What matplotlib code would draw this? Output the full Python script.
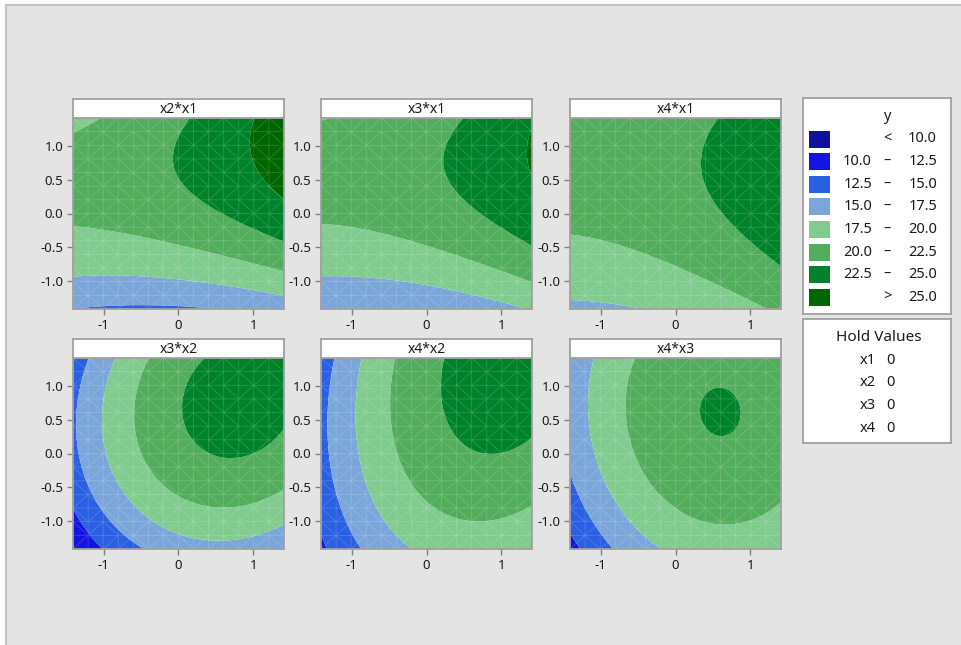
import numpy as np
import matplotlib
matplotlib.use("Agg")
import matplotlib.pyplot as plt
from matplotlib.patches import Rectangle
import matplotlib.tri as mtri

plt.rcParams['font.family'] = ['Noto Sans', 'DejaVu Sans']

# ---------------- data ----------------
panel_titles = ["x2*x1", "x3*x1", "x4*x1", "x3*x2", "x4*x2", "x4*x3"]
levels = [10.0, 12.5, 15.0, 17.5, 20.0, 22.5, 25.0]
level_colors = ["#0f0fa0", "#1414e0", "#2a60e2", "#7ba6da",
                "#80cb8e", "#52ad5c", "#00822a", "#006600"]
legend_lo = ["", "10.0", "12.5", "15.0", "17.5", "20.0", "22.5", ""]
legend_mid = ["<", "–", "–", "–", "–", "–", "–", ">"]
legend_hi = ["10.0", "12.5", "15.0", "17.5", "20.0", "22.5", "25.0", "25.0"]
legend_title = "y"
hold_title = "Hold Values"
hold_vars = ["x1", "x2", "x3", "x4"]
hold_vals = ["0", "0", "0", "0"]
x_ticks = [-1, 0, 1]
x_tick_labels = ["-1", "0", "1"]
y_ticks = [-1.0, -0.5, 0.0, 0.5, 1.0]
y_tick_labels = ["-1.0", "-0.5", "0.0", "0.5", "1.0"]
axis_lim = 1.414

# contour-boundary points: (horizontal, vertical, level)
x2x1_pts = [
    (0.98, 1.41, 25), (1.03, 0.85, 25), (1.18, 0.45, 25), (1.38, 0.25, 25),
    (0.16, 1.41, 22.5), (-0.04, 0.85, 22.5), (0.20, 0.25, 22.5), (0.38, 0.15, 22.5),
    (0.78, -0.15, 22.5), (1.38, -0.40, 22.5),
    (-1.40, -0.20, 20), (-0.24, -0.42, 20), (0.65, -0.64, 20), (1.38, -0.84, 20),
    (-1.40, 1.20, 20), (-1.04, 1.41, 20),
    (-1.40, -0.92, 17.5), (-0.24, -0.95, 17.5), (0.65, -1.07, 17.5), (1.38, -1.22, 17.5),
    (-0.91, -1.38, 15), (-0.24, -1.35, 15), (0.56, -1.41, 15),
]
x3x1_pts = [
    (1.34, 0.85, 25), (1.42, 1.12, 25), (1.42, 0.57, 25),
    (0.42, 1.41, 22.5), (0.17, 0.70, 22.5), (0.35, 0.35, 22.5), (0.66, 0.05, 22.5),
    (1.02, -0.25, 22.5), (1.42, -0.50, 22.5),
    (-1.40, -0.20, 20), (-0.36, -0.37, 20), (0.31, -0.54, 20), (0.93, -0.79, 20),
    (1.42, -1.02, 20), (-1.40, 1.35, 20), (-1.20, 1.41, 20),
    (-1.40, -0.93, 17.5), (-0.67, -0.96, 17.5), (0.22, -1.07, 17.5), (1.11, -1.37, 17.5),
    (-0.90, -1.41, 15.1),
]
x4x1_pts = [
    (0.56, 1.41, 22.5), (0.39, 1.00, 22.5), (0.36, 0.70, 22.5), (0.43, 0.30, 22.5),
    (0.63, -0.05, 22.5), (0.94, -0.35, 22.5), (1.38, -0.74, 22.5),
    (-1.39, -0.31, 20), (-0.66, -0.50, 20), (0.01, -0.79, 20), (0.68, -1.09, 20),
    (1.21, -1.42, 20),
    (-1.39, -1.28, 17.5), (-0.88, -1.34, 17.5), (-0.35, -1.43, 17.5),
]
x3x2_pts = [
    (0.36, 1.41, 22.5), (0.14, 1.05, 22.5), (0.09, 0.71, 22.5), (0.25, 0.31, 22.5),
    (0.56, 0.06, 22.5), (0.87, 0.00, 22.5), (1.18, 0.06, 22.5), (1.39, 0.16, 22.5),
    (-0.42, 1.41, 20), (-0.55, 0.66, 20), (-0.48, 0.06, 20), (-0.24, -0.44, 20),
    (0.00, -0.84, 20), (0.60, -0.90, 20), (1.39, -0.54, 20),
    (-0.86, 1.41, 17.5), (-1.00, 0.31, 17.5), (-0.82, -0.54, 17.5), (-0.24, -1.08, 17.5),
    (0.43, -1.21, 17.5), (1.39, -1.01, 17.5),
    (-1.22, 1.41, 15), (-1.37, 0.31, 15), (-1.13, -0.64, 15), (-0.46, -1.38, 15),
    (-1.39, -0.84, 12.5), (-1.20, -1.18, 12.5), (-1.00, -1.42, 12.5),
]
x4x2_pts = [
    (0.35, 1.41, 22.5), (0.22, 0.71, 22.5), (0.35, 0.26, 22.5), (0.57, 0.06, 22.5),
    (0.84, -0.03, 22.5), (1.20, 0.06, 22.5), (1.42, 0.21, 22.5),
    (-0.43, 1.41, 20), (-0.52, 0.56, 20), (-0.40, -0.09, 20), (-0.05, -0.64, 20),
    (0.44, -0.94, 20), (0.93, -0.96, 20), (1.42, -0.76, 20),
    (-0.89, 1.41, 17.5), (-0.98, 0.31, 17.5), (-0.85, -0.34, 17.5), (-0.54, -1.03, 17.5),
    (-0.18, -1.42, 17.5),
    (-1.23, 1.41, 15), (-1.32, 0.56, 15), (-1.23, -0.19, 15), (-1.07, -0.84, 15),
    (-0.89, -1.42, 15),
    (-1.40, -1.28, 12.5), (-1.36, -1.42, 12.5),
]
x4x3_pts = [
    (0.40, 0.66, 22.5), (0.88, 0.66, 22.5), (0.64, 0.96, 22.5), (0.64, 0.36, 22.5),
    (-0.59, 1.40, 20), (-0.64, 0.86, 20), (-0.61, 0.36, 20), (-0.48, -0.24, 20),
    (-0.12, -0.74, 20), (0.45, -1.01, 20), (1.03, -0.94, 20), (1.38, -0.81, 20),
    (-1.10, 1.40, 17.5), (-1.15, 0.61, 17.5), (-1.10, -0.04, 17.5), (-0.88, -0.64, 17.5),
    (-0.52, -1.13, 17.5), (-0.12, -1.42, 17.5),
    (-1.39, -0.29, 15), (-1.24, -0.79, 15), (-0.84, -1.42, 15),
    (-1.39, -1.18, 12.5), (-1.28, -1.42, 12.5),
]
panel_points = [x2x1_pts, x3x1_pts, x4x1_pts, x3x2_pts, x4x2_pts, x4x3_pts]

# ---------------- layout (pixels) ----------------
W, H = 961, 645
col_x = [(73, 284), (321, 532), (570, 781)]
row_y = [(118, 309), (358, 549)]
strip_h = 19


def fr(x0, y0, x1, y1):
    return [x0 / W, 1 - y1 / H, (x1 - x0) / W, (y1 - y0) / H]


def quad_design(u, v):
    u = np.asarray(u, float)
    v = np.asarray(v, float)
    return np.column_stack([np.ones_like(u), u, v, u * u, v * v, u * v])


fig = plt.figure(figsize=(W / 100, H / 100), dpi=100)
fig.patch.set_facecolor("white")
fig.add_artist(Rectangle((6 / W, -0.02), 1.0, (H - 5) / H + 0.02,
                         transform=fig.transFigure, facecolor="#e4e4e4",
                         edgecolor="#c4c4c4", linewidth=1.5, zorder=-10))

bounds = [-1e9] + levels + [1e9]
g = np.linspace(-axis_lim, axis_lim, 241)
GU, GV = np.meshgrid(g, g)

# coarse mesh for the faint triangulation texture
mg = np.linspace(-axis_lim, axis_lim, 15)
MU, MV = np.meshgrid(mg, mg)
mesh_tri = mtri.Triangulation(MU.ravel(), MV.ravel())

text_color = "#1a1a1a"
frame_color = "#a0a0a0"

for i, (title, pts) in enumerate(zip(panel_titles, panel_points)):
    r, c = divmod(i, 3)
    x0, x1 = col_x[c]
    y0, y1 = row_y[r]
    ax = fig.add_axes(fr(x0, y0, x1, y1))
    arr = np.array(pts, float)
    coef, *_ = np.linalg.lstsq(quad_design(arr[:, 0], arr[:, 1]), arr[:, 2], rcond=None)
    Z = (quad_design(GU.ravel(), GV.ravel()) @ coef).reshape(GU.shape)
    ax.contourf(GU, GV, Z, levels=bounds, colors=level_colors, antialiased=True)
    ax.triplot(mesh_tri, color="white", lw=0.5, alpha=0.2)
    ax.set_xlim(-axis_lim, axis_lim)
    ax.set_ylim(-axis_lim, axis_lim)
    ax.set_xticks(x_ticks)
    ax.set_xticklabels(x_tick_labels)
    ax.set_yticks(y_ticks)
    ax.set_yticklabels(y_tick_labels)
    ax.tick_params(direction="out", length=4, width=1, color="#808080",
                   labelsize=9.5, labelcolor=text_color, pad=3)
    for s in ax.spines.values():
        s.set_color(frame_color)
        s.set_linewidth(1.3)
    # title strip
    sax = fig.add_axes(fr(x0, y0 - strip_h, x1, y0))
    sax.set_facecolor("white")
    sax.set_xticks([])
    sax.set_yticks([])
    for s in sax.spines.values():
        s.set_color(frame_color)
        s.set_linewidth(1.3)
    sax.text(0.5, 0.47, title, ha="center", va="center", fontsize=10,
             color=text_color, transform=sax.transAxes)

# legend box
lax = fig.add_axes(fr(803, 98, 951, 314))
lax.set_xlim(803, 951)
lax.set_ylim(314, 98)
lax.set_xticks([])
lax.set_yticks([])
lax.set_facecolor("white")
for s in lax.spines.values():
    s.set_color(frame_color)
    s.set_linewidth(1.3)
lax.text(887, 117, legend_title, ha="center", va="center", fontsize=10.5, color=text_color)
row_c0, row_step = 139, 22.6
for k, col in enumerate(level_colors):
    yc = row_c0 + k * row_step
    lax.add_patch(Rectangle((809, yc - 8.5), 21, 17, facecolor=col, edgecolor="none"))
    if legend_lo[k]:
        lax.text(872, yc, legend_lo[k], ha="right", va="center", fontsize=10.5, color=text_color)
    lax.text(887, yc, legend_mid[k], ha="center", va="center", fontsize=10.5, color=text_color)
    lax.text(937, yc, legend_hi[k], ha="right", va="center", fontsize=10.5, color=text_color)

# hold values box
hax = fig.add_axes(fr(803, 319, 951, 443))
hax.set_xlim(803, 951)
hax.set_ylim(443, 319)
hax.set_xticks([])
hax.set_yticks([])
hax.set_facecolor("white")
for s in hax.spines.values():
    s.set_color(frame_color)
    s.set_linewidth(1.3)
hax.text(879, 337, hold_title, ha="center", va="center", fontsize=11, color=text_color)
for k, (nm, val) in enumerate(zip(hold_vars, hold_vals)):
    yc = 360 + k * 22.8
    hax.text(876, yc, nm, ha="right", va="center", fontsize=10.5, color=text_color)
    hax.text(886, yc, val, ha="left", va="center", fontsize=10.5, color=text_color)

fig.savefig("out.png", dpi=100, facecolor=fig.get_facecolor())
